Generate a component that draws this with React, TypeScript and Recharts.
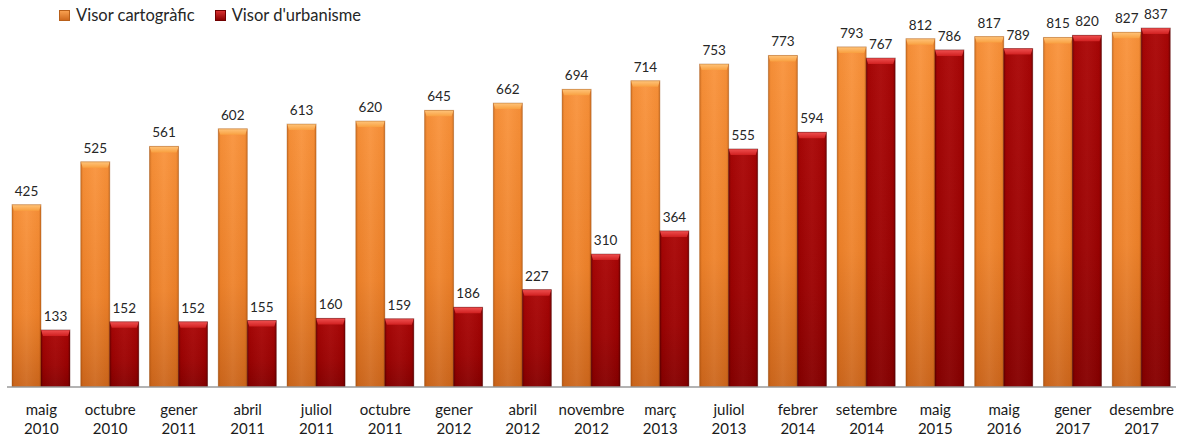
import React from 'react';
import { BarChart, Bar, XAxis, YAxis, LabelList } from 'recharts';

const months = ['maig', 'octubre', 'gener', 'abril', 'juliol', 'octubre', 'gener', 'abril', 'novembre', 'març', 'juliol', 'febrer', 'setembre', 'maig', 'maig', 'gener', 'desembre'];
const years = ['2010', '2010', '2011', '2011', '2011', '2011', '2012', '2012', '2012', '2013', '2013', '2014', '2014', '2015', '2016', '2017', '2017'];
const cartografic = [425, 525, 561, 602, 613, 620, 645, 662, 694, 714, 753, 773, 793, 812, 817, 815, 827];
const urbanisme = [133, 152, 152, 155, 160, 159, 186, 227, 310, 364, 555, 594, 767, 786, 789, 820, 837];

const data = months.map((m, i) => ({
  name: `${m}|${years[i]}`,
  cartografic: cartografic[i],
  urbanisme: urbanisme[i],
}));

const FONT = 'Lato, "Open Sans", sans-serif';

// bar with a little bevel on top and darker sides, like the office 3D look
const bevelBar = (id: string, edge: string) => (props: any) => {
  const { x, y, width, height } = props;
  if (!height || height <= 0) return null;
  const t = Math.min(6, height / 2);
  const s = 2;
  return (
    <g>
      <rect x={x} y={y} width={width} height={height} fill={`url(#${id}Body)`} />
      <rect x={x} y={y} width={width} height={height} fill={`url(#${id}Side)`} />
      <polygon
        points={`${x},${y} ${x + width},${y} ${x + width - s},${y + t} ${x + s},${y + t}`}
        fill={`url(#${id}Top)`}
      />
      <rect x={x} y={y} width={width} height={height} fill="none" stroke={edge} strokeOpacity={0.35} strokeWidth={1} />
    </g>
  );
};

const Tick = (props: any) => {
  const { x, y, payload } = props;
  const [m, yr] = String(payload.value).split('|');
  return (
    <text x={x} y={y} textAnchor="middle" fontFamily={FONT} fontSize={15} fill="#1a1a1a">
      <tspan x={x} dy={20}>{m}</tspan>
      <tspan x={x} dy={19}>{yr}</tspan>
    </text>
  );
};

const LegendBox = () => (
  <div
    style={{
      position: 'absolute', top: 5, left: 59, display: 'flex', alignItems: 'center',
      fontFamily: FONT, fontSize: 16.5, color: '#262626', lineHeight: '20px',
    }}
  >
    <span style={{ width: 9, height: 9, background: 'linear-gradient(#f8a050, #d06a1e)', border: '1px solid #b8601a', marginRight: 6 }} />
    <span style={{ marginRight: 20 }}>Visor cartogràfic</span>
    <span style={{ width: 9, height: 9, background: 'linear-gradient(#d83030, #8a0000)', border: '1px solid #700000', marginRight: 6 }} />
    <span>Visor d'urbanisme</span>
  </div>
);

export default function App() {
  return (
    <div style={{ position: 'absolute', left: 0, top: 0, width: 1184, height: 439, background: '#fff' }}>
      <BarChart
        width={1184}
        height={439}
        data={data}
        margin={{ top: 1, right: 8, bottom: 22, left: 7 }}
        barCategoryGap={5}
        barGap={0}
      >
        <defs>
          <linearGradient id="orBody" x1="0" y1="0" x2="0" y2="1">
            <stop offset="0%" stopColor="#f9923a" />
            <stop offset="60%" stopColor="#ee822a" />
            <stop offset="100%" stopColor="#cc661c" />
          </linearGradient>
          <linearGradient id="orSide" x1="0" y1="0" x2="1" y2="0">
            <stop offset="0%" stopColor="#8a3a00" stopOpacity={0.35} />
            <stop offset="8%" stopColor="#8a3a00" stopOpacity={0.05} />
            <stop offset="50%" stopColor="#ffffff" stopOpacity={0.06} />
            <stop offset="92%" stopColor="#8a3a00" stopOpacity={0.05} />
            <stop offset="100%" stopColor="#8a3a00" stopOpacity={0.35} />
          </linearGradient>
          <linearGradient id="orTop" x1="0" y1="0" x2="0" y2="1">
            <stop offset="0%" stopColor="#ffc47a" />
            <stop offset="100%" stopColor="#f9a040" />
          </linearGradient>
          <linearGradient id="rdBody" x1="0" y1="0" x2="0" y2="1">
            <stop offset="0%" stopColor="#aa0606" />
            <stop offset="60%" stopColor="#9c0202" />
            <stop offset="100%" stopColor="#860000" />
          </linearGradient>
          <linearGradient id="rdSide" x1="0" y1="0" x2="1" y2="0">
            <stop offset="0%" stopColor="#300000" stopOpacity={0.4} />
            <stop offset="8%" stopColor="#300000" stopOpacity={0.05} />
            <stop offset="50%" stopColor="#ffffff" stopOpacity={0.04} />
            <stop offset="92%" stopColor="#300000" stopOpacity={0.05} />
            <stop offset="100%" stopColor="#300000" stopOpacity={0.4} />
          </linearGradient>
          <linearGradient id="rdTop" x1="0" y1="0" x2="0" y2="1">
            <stop offset="0%" stopColor="#f05050" />
            <stop offset="100%" stopColor="#d02020" />
          </linearGradient>
        </defs>
        <XAxis
          dataKey="name"
          height={30}
          tick={<Tick />}
          tickLine={false}
          axisLine={{ stroke: '#9a9a9a', strokeWidth: 1.5 }}
          interval={0}
        />
        <YAxis hide domain={[0, 900]} allowDataOverflow />
        <Bar dataKey="cartografic" isAnimationActive={false} shape={bevelBar('or', '#8a4000')}>
          <LabelList dataKey="cartografic" position="top" offset={9} fontFamily={FONT} fontSize={13.5} fill="#262626" />
        </Bar>
        <Bar dataKey="urbanisme" isAnimationActive={false} shape={bevelBar('rd', '#400000')}>
          <LabelList dataKey="urbanisme" position="top" offset={9} fontFamily={FONT} fontSize={13.5} fill="#262626" />
        </Bar>
      </BarChart>
      <LegendBox />
    </div>
  );
}
